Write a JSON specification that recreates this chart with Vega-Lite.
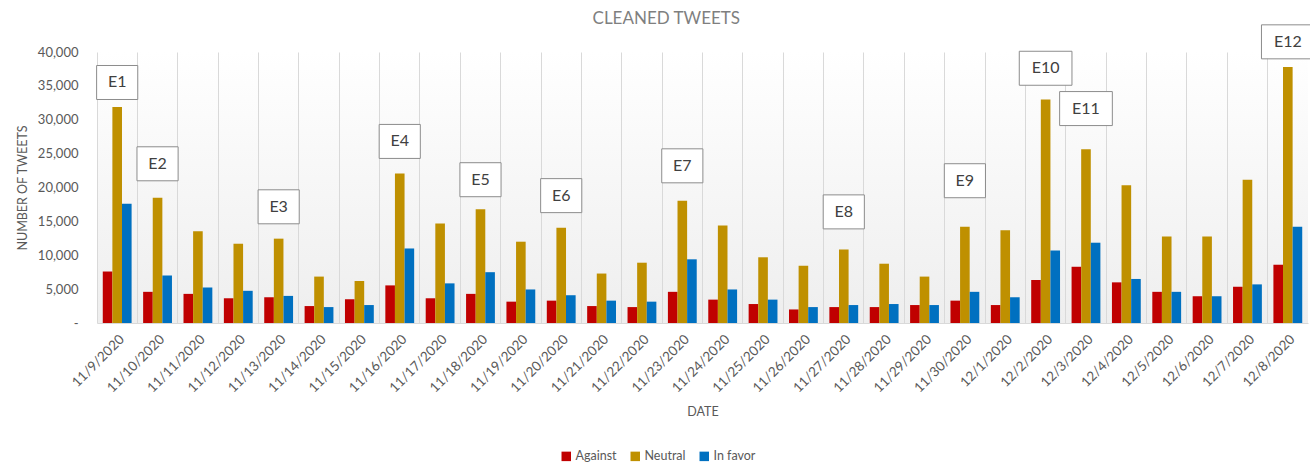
{
  "$schema": "https://vega.github.io/schema/vega-lite/v6.json",
  "autosize": {"type": "none"},
  "width": 1211,
  "height": 271,
  "padding": {"left": 97, "top": 52, "right": 2, "bottom": 141},
  "background": "white",
  "config": {
    "font": "Lato",
    "view": {"stroke": null, "fill": {"gradient": "linear", "x1": 0, "y1": 0, "x2": 0, "y2": 1, "stops": [{"offset": 0, "color": "#ffffff"}, {"offset": 1, "color": "#eeeeee"}]}}
  },
  "title": {"text": "CLEANED TWEETS", "frame": "bounds", "anchor": "middle", "fontSize": 17, "fontWeight": "normal", "color": "#7f7f7f", "font": "Lato", "offset": 4, "dy": 9},
  "datasets": {
    "tweets": [
      {"date": "11/9/2020", "stance": "Against", "count": 7600}, {"date": "11/9/2020", "stance": "Neutral", "count": 31900}, {"date": "11/9/2020", "stance": "In favor", "count": 17600},
      {"date": "11/10/2020", "stance": "Against", "count": 4600}, {"date": "11/10/2020", "stance": "Neutral", "count": 18500}, {"date": "11/10/2020", "stance": "In favor", "count": 7000},
      {"date": "11/11/2020", "stance": "Against", "count": 4300}, {"date": "11/11/2020", "stance": "Neutral", "count": 13550}, {"date": "11/11/2020", "stance": "In favor", "count": 5250},
      {"date": "11/12/2020", "stance": "Against", "count": 3650}, {"date": "11/12/2020", "stance": "Neutral", "count": 11700}, {"date": "11/12/2020", "stance": "In favor", "count": 4750},
      {"date": "11/13/2020", "stance": "Against", "count": 3800}, {"date": "11/13/2020", "stance": "Neutral", "count": 12450}, {"date": "11/13/2020", "stance": "In favor", "count": 4000},
      {"date": "11/14/2020", "stance": "Against", "count": 2500}, {"date": "11/14/2020", "stance": "Neutral", "count": 6850}, {"date": "11/14/2020", "stance": "In favor", "count": 2350},
      {"date": "11/15/2020", "stance": "Against", "count": 3500}, {"date": "11/15/2020", "stance": "Neutral", "count": 6200}, {"date": "11/15/2020", "stance": "In favor", "count": 2650},
      {"date": "11/16/2020", "stance": "Against", "count": 5550}, {"date": "11/16/2020", "stance": "Neutral", "count": 22050}, {"date": "11/16/2020", "stance": "In favor", "count": 11000},
      {"date": "11/17/2020", "stance": "Against", "count": 3650}, {"date": "11/17/2020", "stance": "Neutral", "count": 14700}, {"date": "11/17/2020", "stance": "In favor", "count": 5850},
      {"date": "11/18/2020", "stance": "Against", "count": 4300}, {"date": "11/18/2020", "stance": "Neutral", "count": 16800}, {"date": "11/18/2020", "stance": "In favor", "count": 7500},
      {"date": "11/19/2020", "stance": "Against", "count": 3150}, {"date": "11/19/2020", "stance": "Neutral", "count": 12000}, {"date": "11/19/2020", "stance": "In favor", "count": 4950},
      {"date": "11/20/2020", "stance": "Against", "count": 3300}, {"date": "11/20/2020", "stance": "Neutral", "count": 14050}, {"date": "11/20/2020", "stance": "In favor", "count": 4100},
      {"date": "11/21/2020", "stance": "Against", "count": 2500}, {"date": "11/21/2020", "stance": "Neutral", "count": 7300}, {"date": "11/21/2020", "stance": "In favor", "count": 3300},
      {"date": "11/22/2020", "stance": "Against", "count": 2350}, {"date": "11/22/2020", "stance": "Neutral", "count": 8900}, {"date": "11/22/2020", "stance": "In favor", "count": 3150},
      {"date": "11/23/2020", "stance": "Against", "count": 4600}, {"date": "11/23/2020", "stance": "Neutral", "count": 18050}, {"date": "11/23/2020", "stance": "In favor", "count": 9400},
      {"date": "11/24/2020", "stance": "Against", "count": 3450}, {"date": "11/24/2020", "stance": "Neutral", "count": 14400}, {"date": "11/24/2020", "stance": "In favor", "count": 4950},
      {"date": "11/25/2020", "stance": "Against", "count": 2800}, {"date": "11/25/2020", "stance": "Neutral", "count": 9700}, {"date": "11/25/2020", "stance": "In favor", "count": 3450},
      {"date": "11/26/2020", "stance": "Against", "count": 2000}, {"date": "11/26/2020", "stance": "Neutral", "count": 8450}, {"date": "11/26/2020", "stance": "In favor", "count": 2350},
      {"date": "11/27/2020", "stance": "Against", "count": 2350}, {"date": "11/27/2020", "stance": "Neutral", "count": 10850}, {"date": "11/27/2020", "stance": "In favor", "count": 2650},
      {"date": "11/28/2020", "stance": "Against", "count": 2350}, {"date": "11/28/2020", "stance": "Neutral", "count": 8750}, {"date": "11/28/2020", "stance": "In favor", "count": 2800},
      {"date": "11/29/2020", "stance": "Against", "count": 2650}, {"date": "11/29/2020", "stance": "Neutral", "count": 6850}, {"date": "11/29/2020", "stance": "In favor", "count": 2650},
      {"date": "11/30/2020", "stance": "Against", "count": 3300}, {"date": "11/30/2020", "stance": "Neutral", "count": 14200}, {"date": "11/30/2020", "stance": "In favor", "count": 4600},
      {"date": "12/1/2020", "stance": "Against", "count": 2650}, {"date": "12/1/2020", "stance": "Neutral", "count": 13700}, {"date": "12/1/2020", "stance": "In favor", "count": 3800},
      {"date": "12/2/2020", "stance": "Against", "count": 6350}, {"date": "12/2/2020", "stance": "Neutral", "count": 33000}, {"date": "12/2/2020", "stance": "In favor", "count": 10700},
      {"date": "12/3/2020", "stance": "Against", "count": 8300}, {"date": "12/3/2020", "stance": "Neutral", "count": 25650}, {"date": "12/3/2020", "stance": "In favor", "count": 11850},
      {"date": "12/4/2020", "stance": "Against", "count": 6000}, {"date": "12/4/2020", "stance": "Neutral", "count": 20350}, {"date": "12/4/2020", "stance": "In favor", "count": 6500},
      {"date": "12/5/2020", "stance": "Against", "count": 4600}, {"date": "12/5/2020", "stance": "Neutral", "count": 12750}, {"date": "12/5/2020", "stance": "In favor", "count": 4600},
      {"date": "12/6/2020", "stance": "Against", "count": 3950}, {"date": "12/6/2020", "stance": "Neutral", "count": 12750}, {"date": "12/6/2020", "stance": "In favor", "count": 3950},
      {"date": "12/7/2020", "stance": "Against", "count": 5350}, {"date": "12/7/2020", "stance": "Neutral", "count": 21150}, {"date": "12/7/2020", "stance": "In favor", "count": 5700},
      {"date": "12/8/2020", "stance": "Against", "count": 8600}, {"date": "12/8/2020", "stance": "Neutral", "count": 37800}, {"date": "12/8/2020", "stance": "In favor", "count": 14200}
    ],
    "events": [
      {"date": "11/9/2020", "label": "E1", "y": 35500},
      {"date": "11/10/2020", "label": "E2", "y": 23500},
      {"date": "11/13/2020", "label": "E3", "y": 17150},
      {"date": "11/16/2020", "label": "E4", "y": 26800},
      {"date": "11/18/2020", "label": "E5", "y": 21150},
      {"date": "11/20/2020", "label": "E6", "y": 18800},
      {"date": "11/23/2020", "label": "E7", "y": 23200},
      {"date": "11/27/2020", "label": "E8", "y": 16400},
      {"date": "11/30/2020", "label": "E9", "y": 21000},
      {"date": "12/2/2020", "label": "E10", "y": 37600},
      {"date": "12/3/2020", "label": "E11", "y": 31650},
      {"date": "12/8/2020", "label": "E12", "y": 41500}
    ]
  },
  "encoding": {
    "x": {
      "field": "date", "type": "nominal", "sort": null,
      "scale": {"paddingInner": 0, "paddingOuter": 0},
      "axis": {
        "title": "DATE", "titleColor": "#595959", "titleFontSize": 12.5, "titleFontWeight": "normal", "titlePadding": 11,
        "labelAngle": -45, "labelColor": "#595959", "labelFontSize": 13.5, "labelPadding": 9,
        "bandPosition": 0, "grid": true, "gridColor": "#d9d9d9", "gridWidth": 1,
        "domainColor": "#d9d9d9", "ticks": false
      }
    }
  },
  "layer": [
    {
      "data": {"name": "tweets"},
      "mark": {"type": "bar"},
      "encoding": {
        "xOffset": {"field": "stance", "type": "nominal", "sort": ["Against", "Neutral", "In favor"], "scale": {"paddingInner": 0, "paddingOuter": 0.6}},
        "y": {
          "field": "count", "type": "quantitative",
          "scale": {"domain": [0, 40000], "nice": false},
          "axis": {
            "title": "NUMBER OF TWEETS", "titleColor": "#595959", "titleFontSize": 12.5, "titleFontWeight": "normal", "titlePadding": 8,
            "values": [0, 5000, 10000, 15000, 20000, 25000, 30000, 35000, 40000],
            "labelExpr": "datum.value == 0 ? '-      ' : format(datum.value, ',')",
            "labelOverlap": false,
            "labelColor": "#595959", "labelFontSize": 13, "labelPadding": 19,
            "domain": false, "ticks": false, "grid": false
          }
        },
        "color": {
          "field": "stance", "type": "nominal", "sort": ["Against", "Neutral", "In favor"],
          "scale": {"domain": ["Against", "Neutral", "In favor"], "range": ["#c00000", "#bf9000", "#0070c0"]},
          "legend": {
            "title": null, "orient": "none", "direction": "horizontal", "legendX": 463, "legendY": 398,
            "symbolType": "square", "symbolSize": 90, "symbolStrokeWidth": 0,
            "labelColor": "#595959", "labelFontSize": 12.5, "labelOffset": 3, "columnPadding": 12
          }
        }
      }
    },
    {
      "data": {"name": "events"},
      "mark": {"type": "point", "filled": true, "fill": "white", "stroke": "#8c8c8c", "strokeWidth": 1, "size": 1156, "opacity": 1},
      "encoding": {
        "y": {
          "field": "y", "type": "quantitative",
          "axis": {
            "title": "NUMBER OF TWEETS", "titleColor": "#595959", "titleFontSize": 12.5, "titleFontWeight": "normal", "titlePadding": 8,
            "values": [0, 5000, 10000, 15000, 20000, 25000, 30000, 35000, 40000],
            "labelExpr": "datum.value == 0 ? '-      ' : format(datum.value, ',')",
            "labelOverlap": false,
            "labelColor": "#595959", "labelFontSize": 13, "labelPadding": 19,
            "domain": false, "ticks": false, "grid": false
          }
        },
        "shape": {"condition": {"test": "length(datum.label) > 2", "value": "M-1.55,-1H1.55V1H-1.55Z"}, "value": "M-1.21,-1H1.21V1H-1.21Z"}
      }
    },
    {
      "data": {"name": "events"},
      "mark": {"type": "text", "fontSize": 16, "color": "#404040", "align": "center", "baseline": "middle", "font": "Lato"},
      "encoding": {
        "y": {
          "field": "y", "type": "quantitative",
          "axis": {
            "title": "NUMBER OF TWEETS", "titleColor": "#595959", "titleFontSize": 12.5, "titleFontWeight": "normal", "titlePadding": 8,
            "values": [0, 5000, 10000, 15000, 20000, 25000, 30000, 35000, 40000],
            "labelExpr": "datum.value == 0 ? '-      ' : format(datum.value, ',')",
            "labelOverlap": false,
            "labelColor": "#595959", "labelFontSize": 13, "labelPadding": 19,
            "domain": false, "ticks": false, "grid": false
          }
        },
        "text": {"field": "label"}
      }
    }
  ]
}
